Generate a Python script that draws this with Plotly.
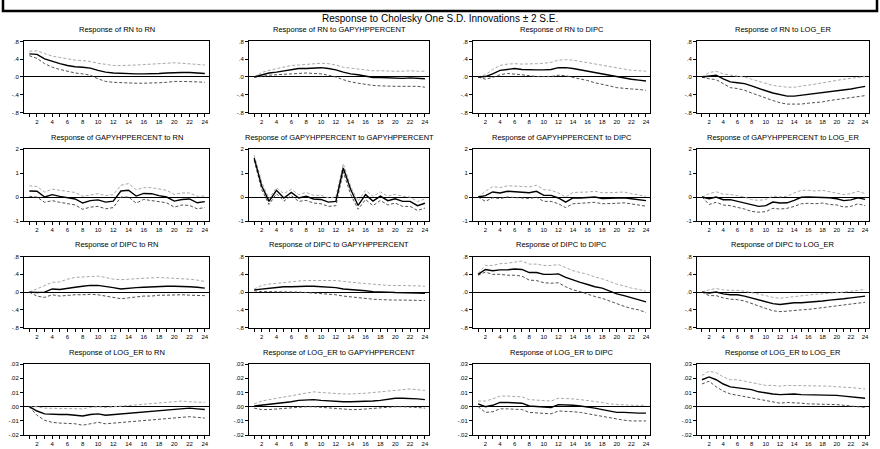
import plotly.graph_objects as go

periods = list(range(1, 25))
variables = ["RN", "GAPYHPPERCENT", "DIPC", "LOG_ER"]

# ---- Responses of RN ----
rn_rn = [0.52, 0.51, 0.41, 0.35, 0.30, 0.26, 0.23, 0.22, 0.20, 0.15, 0.11, 0.09,
         0.08, 0.07, 0.07, 0.07, 0.07, 0.08, 0.09, 0.10, 0.10, 0.10, 0.09, 0.08]
rn_rn_hi = [0.58, 0.59, 0.53, 0.47, 0.44, 0.41, 0.38, 0.37, 0.35, 0.31, 0.28, 0.26,
            0.26, 0.26, 0.27, 0.28, 0.29, 0.30, 0.32, 0.32, 0.31, 0.30, 0.29, 0.27]
rn_rn_lo = [0.48, 0.42, 0.30, 0.22, 0.17, 0.13, 0.09, 0.07, 0.04, -0.04, -0.10, -0.12,
            -0.13, -0.14, -0.14, -0.14, -0.14, -0.13, -0.12, -0.10, -0.10, -0.10, -0.11, -0.12]

rn_gap = [0.00, 0.05, 0.09, 0.11, 0.14, 0.17, 0.19, 0.19, 0.20, 0.21, 0.19, 0.16,
          0.11, 0.07, 0.05, 0.02, -0.01, -0.01, -0.02, -0.03, -0.03, -0.02, -0.03, -0.04]
rn_gap_hi = [0.00, 0.10, 0.15, 0.19, 0.23, 0.26, 0.27, 0.28, 0.30, 0.31, 0.30, 0.27,
             0.22, 0.20, 0.17, 0.15, 0.14, 0.14, 0.13, 0.13, 0.13, 0.14, 0.13, 0.13]
rn_gap_lo = [0.00, 0.01, 0.04, 0.05, 0.07, 0.07, 0.08, 0.09, 0.08, 0.07, 0.04, 0.00,
             -0.06, -0.11, -0.14, -0.17, -0.19, -0.20, -0.21, -0.21, -0.21, -0.21, -0.21, -0.23]

rn_dipc = [0.00, 0.01, 0.07, 0.15, 0.17, 0.19, 0.17, 0.16, 0.16, 0.16, 0.17, 0.21,
           0.21, 0.19, 0.16, 0.13, 0.10, 0.07, 0.03, 0.00, -0.03, -0.05, -0.07, -0.09]
rn_dipc_hi = [0.00, 0.05, 0.17, 0.26, 0.29, 0.30, 0.29, 0.29, 0.30, 0.31, 0.33, 0.38,
              0.39, 0.38, 0.35, 0.32, 0.29, 0.26, 0.23, 0.20, 0.17, 0.15, 0.14, 0.13]
rn_dipc_lo = [0.00, -0.05, -0.01, 0.05, 0.08, 0.07, 0.05, 0.03, 0.01, 0.01, 0.01, 0.04,
              0.03, -0.01, -0.04, -0.08, -0.13, -0.16, -0.20, -0.24, -0.26, -0.27, -0.28, -0.30]

rn_loger = [0.00, 0.02, 0.04, -0.04, -0.11, -0.13, -0.15, -0.20, -0.26, -0.31, -0.36, -0.39,
            -0.43, -0.43, -0.41, -0.39, -0.38, -0.36, -0.33, -0.32, -0.30, -0.27, -0.24, -0.21]
rn_loger_hi = [0.00, 0.10, 0.13, 0.07, 0.04, 0.02, 0.00, -0.05, -0.10, -0.14, -0.19, -0.21,
               -0.23, -0.23, -0.21, -0.19, -0.16, -0.13, -0.10, -0.07, -0.05, -0.03, -0.01, 0.01]
rn_loger_lo = [0.00, -0.04, -0.06, -0.15, -0.24, -0.26, -0.30, -0.36, -0.42, -0.48, -0.53, -0.58,
               -0.61, -0.61, -0.61, -0.59, -0.58, -0.56, -0.53, -0.51, -0.48, -0.46, -0.44, -0.42]

# ---- Responses of GAPYHPPERCENT ----
gap_rn = [0.25, 0.24, 0.00, 0.10, 0.03, -0.01, -0.08, -0.25, -0.15, -0.12, -0.21, -0.17,
          0.25, 0.28, 0.04, 0.15, 0.14, 0.06, 0.00, -0.17, -0.10, -0.08, -0.24, -0.19]
gap_rn_hi = [0.47, 0.44, 0.21, 0.33, 0.28, 0.24, 0.19, 0.03, 0.10, 0.14, 0.06, 0.10,
             0.49, 0.56, 0.31, 0.39, 0.39, 0.32, 0.28, 0.11, 0.17, 0.17, 0.03, 0.04]
gap_rn_lo = [0.03, 0.00, -0.22, -0.15, -0.22, -0.26, -0.33, -0.51, -0.42, -0.39, -0.49, -0.44,
             0.00, 0.00, -0.25, -0.10, -0.14, -0.19, -0.24, -0.42, -0.33, -0.35, -0.49, -0.44]

gap_gap = [1.62, 0.47, -0.18, 0.28, -0.04, 0.19, -0.04, 0.03, -0.08, -0.10, -0.21, -0.18,
           1.21, 0.31, -0.35, 0.10, -0.17, 0.04, -0.15, -0.07, -0.18, -0.18, -0.36, -0.26]
gap_gap_hi = [1.74, 0.63, -0.07, 0.39, 0.14, 0.32, 0.10, 0.19, 0.07, 0.07, -0.03, 0.00,
              1.39, 0.44, -0.17, 0.28, 0.03, 0.21, 0.04, 0.11, 0.03, 0.00, -0.19, -0.08]
gap_gap_lo = [1.53, 0.32, -0.31, 0.14, -0.17, 0.06, -0.18, -0.14, -0.25, -0.28, -0.39, -0.36,
              1.04, 0.11, -0.51, -0.10, -0.36, -0.14, -0.33, -0.25, -0.39, -0.39, -0.56, -0.46]

gap_dipc = [0.00, 0.06, 0.21, 0.17, 0.24, 0.21, 0.21, 0.18, 0.24, 0.07, 0.07, -0.04,
            -0.21, -0.04, -0.04, -0.01, 0.00, -0.06, -0.06, -0.04, -0.03, -0.07, -0.11, -0.15]
gap_dipc_hi = [0.00, 0.24, 0.44, 0.39, 0.47, 0.44, 0.44, 0.42, 0.49, 0.31, 0.28, 0.17,
               0.00, 0.19, 0.19, 0.21, 0.24, 0.18, 0.18, 0.19, 0.21, 0.14, 0.08, 0.03]
gap_dipc_lo = [0.00, -0.18, -0.03, -0.06, 0.00, -0.03, -0.03, -0.06, -0.01, -0.18, -0.18, -0.28,
               -0.44, -0.28, -0.26, -0.25, -0.22, -0.28, -0.28, -0.26, -0.24, -0.28, -0.33, -0.38]

gap_loger = [0.00, -0.07, 0.00, -0.11, -0.11, -0.18, -0.25, -0.35, -0.39, -0.36, -0.21, -0.25,
             -0.24, -0.14, -0.01, 0.00, -0.01, 0.01, -0.03, -0.07, -0.15, -0.12, -0.03, -0.10]
gap_loger_hi = [0.00, 0.14, 0.22, 0.12, 0.11, 0.06, 0.00, -0.11, -0.14, -0.10, 0.04, 0.01,
                0.03, 0.17, 0.28, 0.28, 0.25, 0.28, 0.22, 0.17, 0.10, 0.14, 0.24, 0.14]
gap_loger_lo = [0.00, -0.31, -0.22, -0.33, -0.36, -0.42, -0.50, -0.60, -0.63, -0.61, -0.47, -0.50,
                -0.47, -0.39, -0.28, -0.26, -0.28, -0.25, -0.31, -0.33, -0.42, -0.39, -0.28, -0.36]

# ---- Responses of DIPC ----
dipc_rn = [0.00, -0.01, 0.00, 0.07, 0.06, 0.09, 0.11, 0.13, 0.15, 0.15, 0.13, 0.10,
           0.07, 0.09, 0.10, 0.11, 0.12, 0.12, 0.13, 0.13, 0.13, 0.12, 0.11, 0.09]
dipc_rn_hi = [0.00, 0.07, 0.15, 0.22, 0.23, 0.29, 0.33, 0.34, 0.36, 0.36, 0.33, 0.29,
              0.28, 0.29, 0.31, 0.32, 0.33, 0.33, 0.32, 0.31, 0.31, 0.29, 0.27, 0.24]
dipc_rn_lo = [0.00, -0.09, -0.12, -0.06, -0.09, -0.07, -0.06, -0.06, -0.05, -0.06, -0.09, -0.12,
              -0.15, -0.13, -0.11, -0.09, -0.09, -0.07, -0.07, -0.06, -0.06, -0.07, -0.07, -0.08]

dipc_gap = [0.05, 0.07, 0.09, 0.10, 0.12, 0.12, 0.13, 0.13, 0.13, 0.12, 0.12, 0.10,
            0.07, 0.06, 0.04, 0.03, 0.01, 0.01, 0.00, -0.01, -0.01, -0.02, -0.02, -0.03]
dipc_gap_hi = [0.07, 0.15, 0.18, 0.20, 0.22, 0.23, 0.25, 0.26, 0.26, 0.27, 0.26, 0.26,
               0.24, 0.22, 0.20, 0.19, 0.18, 0.16, 0.15, 0.15, 0.15, 0.15, 0.14, 0.13]
dipc_gap_lo = [0.03, 0.01, 0.01, 0.01, 0.01, 0.00, 0.00, -0.01, -0.02, -0.03, -0.04, -0.06,
               -0.09, -0.11, -0.13, -0.15, -0.16, -0.17, -0.18, -0.18, -0.18, -0.18, -0.19, -0.19]

dipc_dipc = [0.40, 0.51, 0.48, 0.50, 0.50, 0.52, 0.51, 0.44, 0.44, 0.40, 0.40, 0.41,
             0.33, 0.27, 0.22, 0.17, 0.12, 0.09, 0.02, -0.04, -0.08, -0.13, -0.17, -0.22]
dipc_dipc_hi = [0.42, 0.60, 0.60, 0.64, 0.65, 0.68, 0.70, 0.63, 0.63, 0.60, 0.60, 0.62,
                0.55, 0.48, 0.44, 0.40, 0.34, 0.30, 0.24, 0.18, 0.14, 0.09, 0.06, 0.02]
dipc_dipc_lo = [0.38, 0.45, 0.40, 0.40, 0.38, 0.38, 0.36, 0.27, 0.26, 0.21, 0.20, 0.21,
                0.12, 0.05, 0.01, -0.05, -0.10, -0.14, -0.20, -0.27, -0.32, -0.37, -0.40, -0.46]

dipc_loger = [0.00, -0.02, 0.00, -0.04, -0.06, -0.06, -0.09, -0.13, -0.18, -0.22, -0.26, -0.28,
              -0.26, -0.24, -0.24, -0.23, -0.21, -0.20, -0.18, -0.17, -0.15, -0.13, -0.11, -0.09]
dipc_loger_hi = [0.00, 0.05, 0.08, 0.05, 0.04, 0.04, 0.02, -0.01, -0.05, -0.08, -0.12, -0.14,
                 -0.12, -0.10, -0.09, -0.07, -0.05, -0.04, -0.03, -0.01, 0.00, 0.02, 0.04, 0.06]
dipc_loger_lo = [0.00, -0.08, -0.08, -0.13, -0.16, -0.17, -0.20, -0.26, -0.32, -0.37, -0.42, -0.44,
                 -0.43, -0.41, -0.40, -0.39, -0.37, -0.36, -0.34, -0.32, -0.30, -0.28, -0.26, -0.23]

# ---- Responses of LOG_ER ----
loger_rn = [0.0, -0.003, -0.005, -0.0055, -0.0055, -0.0055, -0.006, -0.0065, -0.0055, -0.005, -0.006, -0.0055,
            -0.005, -0.0045, -0.004, -0.0035, -0.003, -0.0025, -0.002, -0.0015, -0.001, -0.001, -0.0015, -0.002]
loger_rn_hi = [0.0, 0.0, -0.001, -0.001, -0.001, -0.001, -0.0015, -0.0015, -0.0005, 0.0, -0.0005, 0.0,
               0.0005, 0.001, 0.0015, 0.002, 0.0025, 0.003, 0.0035, 0.004, 0.004, 0.0035, 0.003, 0.003]
loger_rn_lo = [0.0, -0.006, -0.0095, -0.011, -0.0115, -0.0115, -0.012, -0.013, -0.012, -0.011, -0.012, -0.0115,
               -0.011, -0.0105, -0.01, -0.0095, -0.009, -0.0085, -0.008, -0.0075, -0.007, -0.007, -0.0075, -0.008]

loger_gap = [0.0005, 0.001, 0.0015, 0.002, 0.003, 0.0035, 0.0045, 0.005, 0.005, 0.0045, 0.004, 0.004,
             0.0035, 0.0035, 0.0035, 0.004, 0.004, 0.0045, 0.0055, 0.006, 0.006, 0.006, 0.0055, 0.005]
loger_gap_hi = [0.002, 0.004, 0.005, 0.006, 0.007, 0.008, 0.009, 0.010, 0.0105, 0.010, 0.0095, 0.0095,
                0.009, 0.009, 0.009, 0.0095, 0.010, 0.0105, 0.011, 0.012, 0.0125, 0.0125, 0.012, 0.0115]
loger_gap_lo = [-0.001, -0.002, -0.002, -0.0015, -0.001, -0.0005, 0.0, 0.0, 0.0, -0.0005, -0.001, -0.0015,
                -0.002, -0.002, -0.002, -0.0015, -0.001, -0.001, 0.0, 0.0, 0.0, 0.0, -0.0005, -0.001]

loger_dipc = [0.002, 0.0, 0.001, 0.003, 0.003, 0.0025, 0.0025, 0.0005, 0.0, 0.0, -0.0005, 0.0015,
              0.0015, 0.001, 0.0005, 0.0, -0.001, -0.002, -0.003, -0.004, -0.004, -0.0045, -0.0045, -0.0045]
loger_dipc_hi = [0.004, 0.004, 0.0055, 0.0075, 0.0075, 0.007, 0.007, 0.005, 0.0045, 0.0045, 0.004, 0.006,
                 0.006, 0.0055, 0.005, 0.0045, 0.004, 0.003, 0.002, 0.0015, 0.001, 0.001, 0.001, 0.001]
loger_dipc_lo = [0.0, -0.004, -0.0035, -0.0015, -0.0015, -0.002, -0.002, -0.004, -0.0045, -0.0045, -0.005, -0.003,
                 -0.003, -0.0035, -0.004, -0.005, -0.006, -0.007, -0.008, -0.009, -0.0095, -0.01, -0.01, -0.01]

loger_loger = [0.019, 0.021, 0.019, 0.016, 0.014, 0.0135, 0.013, 0.012, 0.0105, 0.0095, 0.009, 0.0085,
               0.009, 0.009, 0.0085, 0.0085, 0.0085, 0.0085, 0.0085, 0.008, 0.0075, 0.007, 0.0065, 0.006]
loger_loger_hi = [0.022, 0.025, 0.024, 0.021, 0.019, 0.019, 0.018, 0.017, 0.016, 0.015, 0.015, 0.0145,
                  0.015, 0.015, 0.0145, 0.0145, 0.0145, 0.0145, 0.0145, 0.014, 0.014, 0.0135, 0.013, 0.0125]
loger_loger_lo = [0.016, 0.018, 0.014, 0.011, 0.009, 0.008, 0.007, 0.006, 0.005, 0.004, 0.003, 0.0025,
                  0.003, 0.003, 0.0025, 0.002, 0.002, 0.002, 0.002, 0.0015, 0.001, 0.0005, 0.0, -0.0005]

# Grid of (response, upper band, lower band), rows = responding variable
panels = [
    [(rn_rn, rn_rn_hi, rn_rn_lo), (rn_gap, rn_gap_hi, rn_gap_lo),
     (rn_dipc, rn_dipc_hi, rn_dipc_lo), (rn_loger, rn_loger_hi, rn_loger_lo)],
    [(gap_rn, gap_rn_hi, gap_rn_lo), (gap_gap, gap_gap_hi, gap_gap_lo),
     (gap_dipc, gap_dipc_hi, gap_dipc_lo), (gap_loger, gap_loger_hi, gap_loger_lo)],
    [(dipc_rn, dipc_rn_hi, dipc_rn_lo), (dipc_gap, dipc_gap_hi, dipc_gap_lo),
     (dipc_dipc, dipc_dipc_hi, dipc_dipc_lo), (dipc_loger, dipc_loger_hi, dipc_loger_lo)],
    [(loger_rn, loger_rn_hi, loger_rn_lo), (loger_gap, loger_gap_hi, loger_gap_lo),
     (loger_dipc, loger_dipc_hi, loger_dipc_lo), (loger_loger, loger_loger_hi, loger_loger_lo)],
]

# Y-axis scales per responding variable
row_ticks = [
    ([-0.8, -0.4, 0.0, 0.4, 0.8], ["-.8", "-.4", ".0", ".4", ".8"]),
    ([-1, 0, 1, 2], ["-1", "0", "1", "2"]),
    ([-0.8, -0.4, 0.0, 0.4, 0.8], ["-.8", "-.4", ".0", ".4", ".8"]),
    ([-0.02, -0.01, 0.0, 0.01, 0.02, 0.03], ["-.02", "-.01", ".00", ".01", ".02", ".03"]),
]

x_tickvals = periods
x_ticktext = [str(p) if p % 2 == 0 else "" for p in periods]

W, H = 880, 449
FONT = "Liberation Sans, Arial, sans-serif"

# Pixel frames of the panel boxes
col_px = [(24, 209), (249, 429), (473, 650), (697, 869)]
row_px = [(39, 111), (148, 221), (257, 329), (366, 438)]

fig = go.Figure()
annotations = []
layout_axes = {}

for r in range(4):
    for c in range(4):
        k = r * 4 + c + 1
        xname = "x" if k == 1 else f"x{k}"
        yname = "y" if k == 1 else f"y{k}"
        resp, hi, lo = panels[r][c]
        for vals, color, dash, width in [
            (hi, "#a8a8a8", "3px,2px", 1.0),
            (lo, "#505050", "3px,2px", 1.0),
            (resp, "#000000", "solid", 1.4),
        ]:
            fig.add_trace(go.Scatter(
                x=periods, y=vals, mode="lines",
                line=dict(color=color, dash=dash, width=width),
                xaxis=xname, yaxis=yname, showlegend=False, hoverinfo="skip",
            ))
        x0, x1 = col_px[c]
        y0, y1 = row_px[r]
        tv, tt = row_ticks[r]
        axis_common = dict(
            showgrid=False, showline=True, linecolor="black", linewidth=1,
            mirror=True, ticks="outside", ticklen=3, tickcolor="black",
            tickwidth=1, tickfont=dict(family=FONT, size=6, color="black"),
        )
        layout_axes["xaxis" if k == 1 else f"xaxis{k}"] = dict(
            domain=[x0 / W, x1 / W], anchor=yname, range=[0.3, 24.55],
            tickvals=x_tickvals, ticktext=x_ticktext, zeroline=False,
            **axis_common,
        )
        layout_axes["yaxis" if k == 1 else f"yaxis{k}"] = dict(
            domain=[1 - y1 / H, 1 - y0 / H], anchor=xname,
            range=[tv[0], tv[-1]], tickvals=tv, ticktext=tt,
            zeroline=True, zerolinecolor="black", zerolinewidth=1,
            **axis_common,
        )
        annotations.append(dict(
            text=f"Response of {variables[r]} to {variables[c]}",
            x=(x0 + x1) / 2 / W, y=1 - (y0 - 12) / H,
            xref="paper", yref="paper", showarrow=False,
            xanchor="center", yanchor="middle",
            font=dict(family=FONT, size=7.5, color="black"),
        ))

annotations.append(dict(
    text="Response to Cholesky One S.D. Innovations \u00b1 2 S.E.",
    x=0.5, y=1 - 16 / H, xref="paper", yref="paper", showarrow=False,
    xanchor="center", yanchor="middle",
    font=dict(family=FONT, size=10, color="black"),
))

# Bordered header box running off the top edge
shapes = [dict(
    type="rect", xref="paper", yref="paper",
    x0=3 / W, x1=877 / W, y0=1 - 8 / H, y1=1.05,
    line=dict(color="black", width=2.5),
)]

fig.update_layout(
    width=W, height=H, margin=dict(l=0, r=0, t=0, b=0),
    paper_bgcolor="white", plot_bgcolor="white",
    annotations=annotations, shapes=shapes,
    **layout_axes,
)

fig.write_html("out.html")
